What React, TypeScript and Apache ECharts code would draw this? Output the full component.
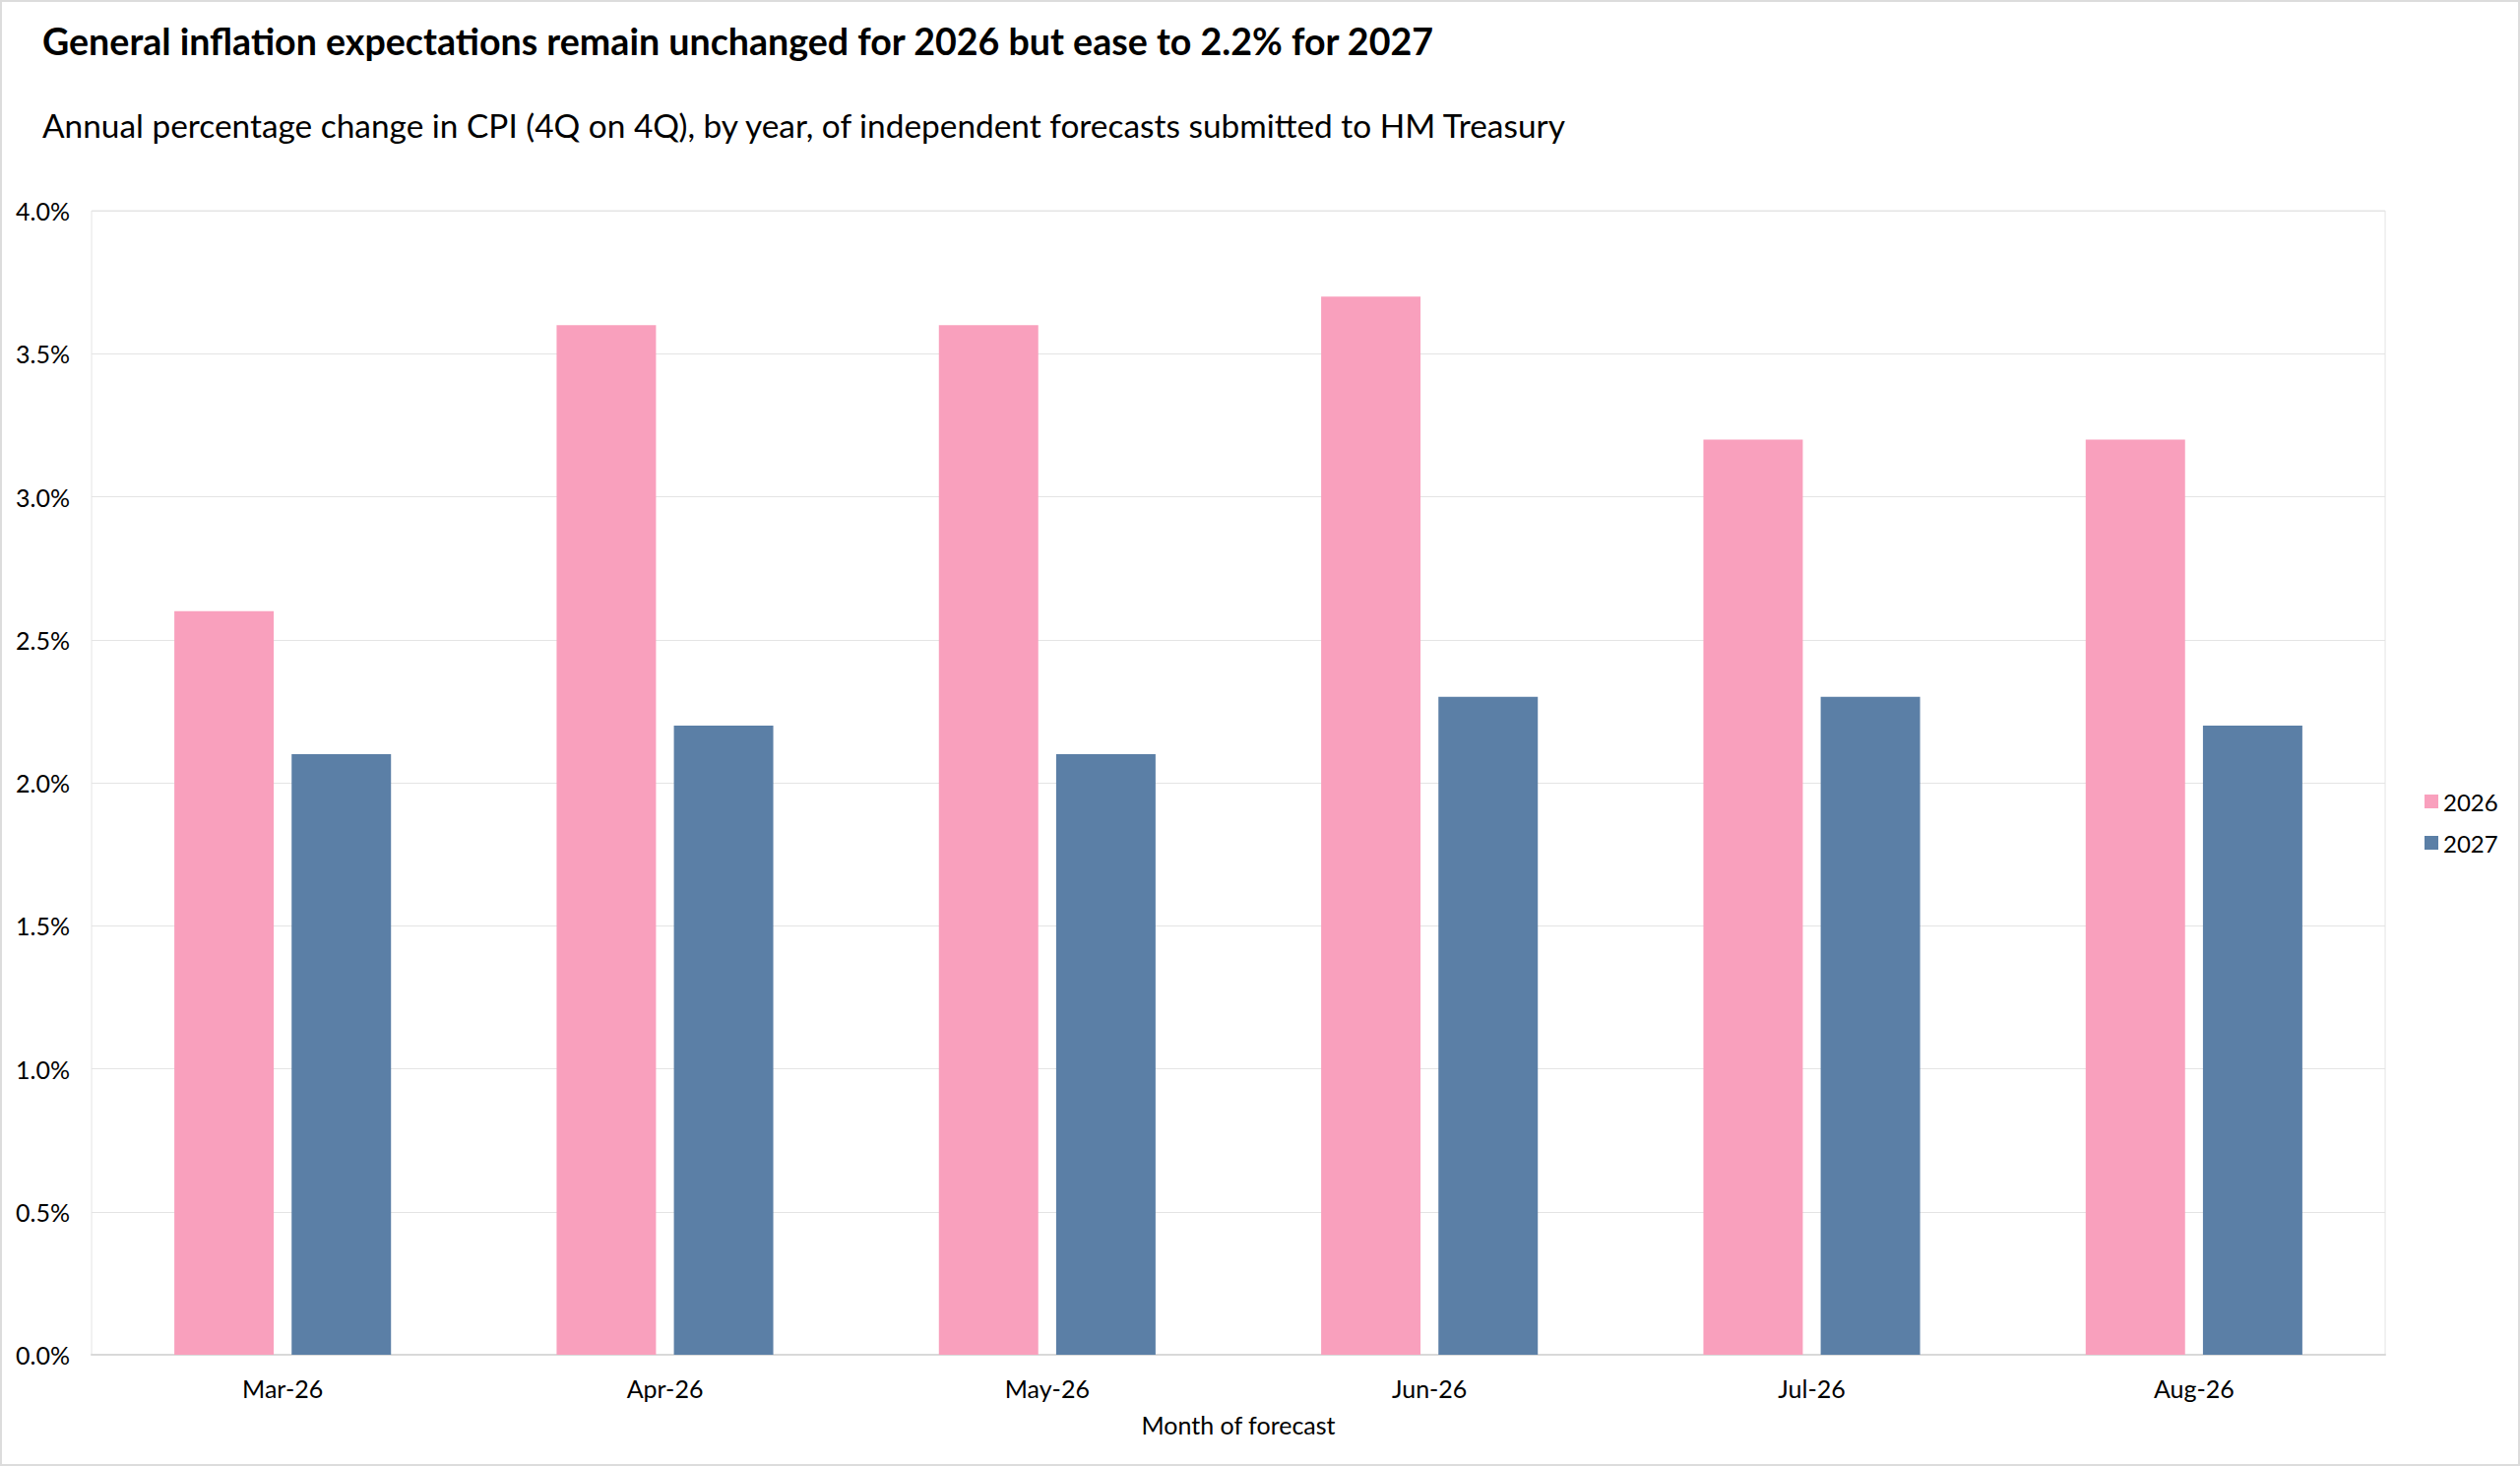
import * as echarts from "echarts"
import { useEffect, useRef } from "react"

const months = ["Mar-26", "Apr-26", "May-26", "Jun-26", "Jul-26", "Aug-26"]
const forecast2026 = [2.6, 3.6, 3.6, 3.7, 3.2, 3.2]
const forecast2027 = [2.1, 2.2, 2.1, 2.3, 2.3, 2.2]

const font = "Lato"
const textColor = "#000000"

export default function App() {
  const chartRef = useRef<HTMLDivElement>(null)

  useEffect(() => {
    if (!chartRef.current) return
    const chart = echarts.init(chartRef.current, null, { renderer: "svg" })

    const option: echarts.EChartsOption = {
      animation: false,
      backgroundColor: "#ffffff",
      textStyle: { fontFamily: font, color: textColor },
      title: [
        {
          text: "General inflation expectations remain unchanged for 2026 but ease to 2.2% for 2027",
          left: 41,
          top: 20,
          padding: 0,
          textStyle: { fontFamily: font, fontSize: 37.6, fontWeight: "bold", color: textColor },
        },
        {
          text: "Annual percentage change in CPI (4Q on 4Q), by year, of independent forecasts submitted to HM Treasury",
          left: 41,
          top: 108,
          padding: 0,
          textStyle: { fontFamily: font, fontSize: 33.4, fontWeight: "normal", color: textColor },
        },
      ],
      legend: {
        orient: "vertical",
        left: 2456,
        top: 795,
        itemWidth: 14,
        itemHeight: 14,
        itemGap: 18,
        icon: "rect",
        textStyle: { fontFamily: font, fontSize: 24, color: textColor },
        data: ["2026", "2027"],
      },
      grid: {
        left: 91,
        right: 135,
        top: 212,
        bottom: 111,
        show: true,
        borderColor: "#e4e4e4",
        borderWidth: 1,
      },
      xAxis: {
        type: "category",
        data: months,
        name: "Month of forecast",
        nameLocation: "middle",
        nameGap: 58,
        nameTextStyle: { fontFamily: font, fontSize: 25, color: textColor },
        axisLine: { lineStyle: { color: "#d9d9d9", width: 2 } },
        axisTick: { show: false },
        axisLabel: { fontFamily: font, fontSize: 25, color: textColor, margin: 21 },
      },
      yAxis: {
        type: "value",
        min: 0,
        max: 4,
        interval: 0.5,
        axisLine: { show: false },
        axisTick: { show: false },
        axisLabel: {
          fontFamily: font,
          fontSize: 25,
          color: textColor,
          margin: 22,
          formatter: (v: number) => v.toFixed(1) + "%",
        },
        splitLine: { lineStyle: { color: "#e4e4e4", width: 1 } },
      },
      series: [
        {
          name: "2026",
          type: "bar",
          data: forecast2026,
          barWidth: "26%",
          barGap: "18%",
          itemStyle: { color: "#f9a0bd" },
        },
        {
          name: "2027",
          type: "bar",
          data: forecast2027,
          barWidth: "26%",
          itemStyle: { color: "#5b7fa6" },
        },
      ],
    }

    chart.setOption(option)
    return () => chart.dispose()
  }, [])

  return (
    <div
      ref={chartRef}
      style={{
        position: "fixed",
        left: 0,
        top: 0,
        width: 2560,
        height: 1489,
        boxSizing: "border-box",
        border: "2px solid #dcdcdc",
      }}
    />
  )
}
